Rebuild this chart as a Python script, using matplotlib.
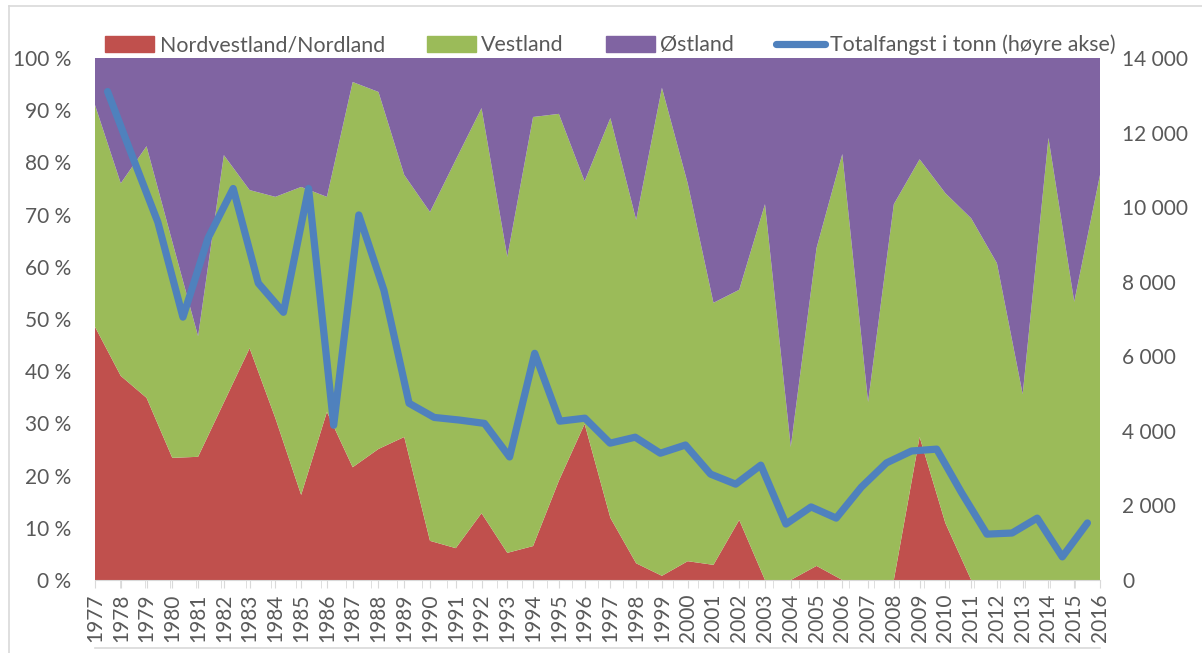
import numpy as np
import matplotlib
matplotlib.use('Agg')
from matplotlib import pyplot as plt
from matplotlib.ticker import FuncFormatter, FixedLocator
from matplotlib.lines import Line2D

years = list(range(1977, 2017))

# share of catch (percent) by region
nordvestland = [48.5, 39.1, 34.9, 23.4, 23.6, 34.0, 44.4, 31.0, 16.3, 32.2,
                21.6, 25.1, 27.4, 7.5, 6.1, 12.8, 5.2, 6.5, 19.0, 29.9,
                11.9, 3.2, 0.8, 3.6, 2.9, 11.5, 0.0, 0.0, 2.7, 0.0,
                0.0, 0.0, 27.4, 10.9, 0.0, 0.0, 0.0, 0.0, 0.0, 0.0]
# top of the green band (nordvestland + vestland)
green_top = [91.0, 76.0, 83.1, 64.8, 46.7, 81.4, 74.7, 73.4, 75.3, 73.4,
             95.4, 93.5, 77.6, 70.5, 80.5, 90.4, 61.9, 88.7, 89.3, 76.4,
             88.5, 69.0, 94.3, 76.0, 53.1, 55.6, 72.0, 25.5, 63.6, 81.6,
             34.1, 72.0, 80.6, 74.1, 69.3, 60.7, 35.6, 84.7, 53.3, 77.6]
vestland = [g - n for g, n in zip(green_top, nordvestland)]
ostland = [100 - g for g in green_top]

# total catch in tonnes (right axis)
totalfangst = [13100, 11340, 9600, 7050, 9170, 10500, 7960, 7180, 10500, 4150,
               9790, 7770, 4740, 4360, 4290, 4200, 3300, 6080, 4260, 4340,
               3670, 3830, 3400, 3620, 2840, 2570, 3080, 1500, 1960, 1660,
               2490, 3140, 3460, 3510, 2330, 1230, 1260, 1660, 620, 1530]

RED = '#C0504D'
GREEN = '#9BBB59'
PURPLE = '#8064A2'
BLUE = '#4F81BD'
GREY = '#595959'

plt.rcParams['font.family'] = ['Lato', 'DejaVu Sans']

fig = plt.figure(figsize=(12.02, 6.53), dpi=100)
ax = fig.add_axes([95 / 1202, 1 - 580 / 653, 1005 / 1202, 522 / 653])

n = len(years)
x = np.arange(n)
ax.stackplot(x, nordvestland, vestland, ostland,
             colors=[RED, GREEN, PURPLE], linewidth=0)
ax.set_xlim(0, n - 1)
ax.set_ylim(0, 100)

ax.yaxis.set_major_locator(FixedLocator(range(0, 101, 10)))
ax.yaxis.set_major_formatter(FuncFormatter(lambda v, p: f'{int(v)} %'))
ax.set_xticks(x)
ax.set_xticklabels([str(y) for y in years], rotation=90)
# secondary category boundaries (line series sits between them)
ax.xaxis.set_minor_locator(FixedLocator(np.arange(n + 1) * (n - 1) / n))
ax.tick_params(axis='y', length=0, labelsize=15, labelcolor=GREY, pad=17)
ax.tick_params(axis='x', which='both', length=6, color='#D9D9D9',
               labelsize=15, labelcolor=GREY, pad=4)
for s in ['top', 'right', 'left']:
    ax.spines[s].set_visible(False)
ax.spines['bottom'].set_color('#D9D9D9')

ax2 = ax.twinx()
line_x = (np.arange(n) + 0.5) * (n - 1) / n
ax2.plot(line_x, totalfangst, color=BLUE, linewidth=5.2,
         solid_joinstyle='round', solid_capstyle='round')
ax2.set_ylim(0, 14000)
ax2.yaxis.set_major_locator(FixedLocator(range(0, 14001, 2000)))
ax2.yaxis.set_major_formatter(
    FuncFormatter(lambda v, p: f'{int(v):,}'.replace(',', ' ')))
ax2.tick_params(axis='y', length=0, labelsize=15, labelcolor=GREY, pad=16)
for s in ['top', 'right', 'left', 'bottom']:
    ax2.spines[s].set_visible(False)

handles = [plt.Rectangle((0, 0), 1, 1, color=RED),
           plt.Rectangle((0, 0), 1, 1, color=GREEN),
           plt.Rectangle((0, 0), 1, 1, color=PURPLE),
           Line2D([0], [0], color=BLUE, linewidth=5.2, solid_capstyle='round')]
labels = ['Nordvestland/Nordland', 'Vestland', 'Østland',
          'Totalfangst i tonn (høyre akse)']
fig.legend(handles, labels, loc='center left', ncol=4, frameon=False,
           bbox_to_anchor=(86 / 1202, 1 - 45 / 653), fontsize=15.4,
           labelcolor=GREY, handlelength=2.3, handleheight=0.75,
           columnspacing=1.95, handletextpad=0.25)

# chart frame
fig.add_artist(Line2D([9 / 1202, 9 / 1202], [0, 1 - 6 / 653],
                      color='#D9D9D9', linewidth=1.2, transform=fig.transFigure))
fig.add_artist(Line2D([9 / 1202, 1], [1 - 6 / 653, 1 - 6 / 653],
                      color='#D9D9D9', linewidth=1.2, transform=fig.transFigure))
fig.add_artist(Line2D([95 / 1202, 1100 / 1202], [1 - 648 / 653, 1 - 648 / 653],
                      color='#D9D9D9', linewidth=1.2, transform=fig.transFigure))

fig.savefig('out.png', dpi=100)
